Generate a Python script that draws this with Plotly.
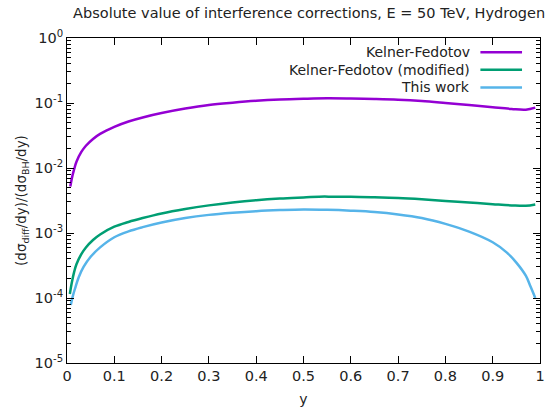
import plotly.graph_objects as go

# Data
kf_x = [0.007, 0.01, 0.015, 0.02, 0.03, 0.04, 0.055, 0.07, 0.1, 0.13, 0.16, 0.2, 0.25, 0.3, 0.35,
        0.4, 0.45, 0.5, 0.55, 0.6, 0.65, 0.7, 0.75, 0.8, 0.85, 0.9, 0.94, 0.97, 0.99]
kf_y = [0.0052, 0.0068, 0.0095, 0.0125, 0.0175, 0.022, 0.028, 0.0335, 0.043, 0.052, 0.060, 0.070,
        0.082, 0.093, 0.101, 0.108, 0.113, 0.116, 0.118, 0.117, 0.115, 0.112, 0.107, 0.100,
        0.093, 0.086, 0.081, 0.079, 0.085]

kfm_x = [0.006, 0.01, 0.015, 0.02, 0.03, 0.04, 0.055, 0.07, 0.1, 0.13, 0.16, 0.2, 0.25, 0.3, 0.35,
         0.4, 0.45, 0.5, 0.545, 0.56, 0.6, 0.65, 0.7, 0.75, 0.8, 0.85, 0.9, 0.94, 0.97, 0.99]
kfm_y = [1.15e-4, 1.7e-4, 2.5e-4, 3.3e-4, 4.7e-4, 6.0e-4, 7.8e-4, 9.5e-4, 1.25e-3, 1.48e-3,
         1.70e-3, 2.0e-3, 2.34e-3, 2.66e-3, 2.95e-3, 3.2e-3, 3.39e-3, 3.53e-3, 3.65e-3, 3.6e-3,
         3.62e-3, 3.55e-3, 3.45e-3, 3.3e-3, 3.12e-3, 2.95e-3, 2.78e-3, 2.66e-3, 2.62e-3, 2.75e-3]

tw_x = [0.008, 0.012, 0.017, 0.025, 0.035, 0.05, 0.07, 0.1, 0.13, 0.16, 0.2, 0.25, 0.3, 0.35, 0.4,
        0.45, 0.5, 0.55, 0.6, 0.65, 0.7, 0.75, 0.8, 0.85, 0.9, 0.93, 0.95, 0.97, 0.98, 0.99]
tw_y = [7.8e-5, 1.05e-4, 1.4e-4, 2.1e-4, 3.0e-4, 4.3e-4, 6.0e-4, 8.6e-4, 1.06e-3, 1.23e-3,
        1.45e-3, 1.7e-3, 1.9e-3, 2.05e-3, 2.17e-3, 2.25e-3, 2.3e-3, 2.27e-3, 2.2e-3, 2.1e-3,
        1.93e-3, 1.7e-3, 1.38e-3, 1.05e-3, 7.2e-4, 5.0e-4, 3.5e-4, 2.2e-4, 1.5e-4, 1.0e-4]

names = ["Kelner-Fedotov", "Kelner-Fedotov (modified)", "This work"]
colors = ["#9400D3", "#009E73", "#56B4E9"]

x_ticks = [0, 0.1, 0.2, 0.3, 0.4, 0.5, 0.6, 0.7, 0.8, 0.9, 1]
x_ticktext = ["0", "0.1", "0.2", "0.3", "0.4", "0.5", "0.6", "0.7", "0.8", "0.9", "1"]
y_ticks = [1e0, 1e-1, 1e-2, 1e-3, 1e-4, 1e-5]
y_ticktext = ["10<sup>0</sup>", "10<sup>-1</sup>", "10<sup>-2</sup>", "10<sup>-3</sup>",
              "10<sup>-4</sup>", "10<sup>-5</sup>"]

font = "DejaVu Sans"
fs = 14.5
fig = go.Figure()
for xs, ys, n, c in zip([kf_x, kfm_x, tw_x], [kf_y, kfm_y, tw_y], names, colors):
    fig.add_trace(go.Scatter(x=xs, y=ys, name=n, mode="lines",
                             line=dict(color=c, width=2.5, shape="spline", smoothing=1.0)))

# gnuplot-style legend: text right-aligned, sample to the right
row_y = [0.956, 0.902, 0.848]
for i, (n, c) in enumerate(zip(names, colors)):
    fig.add_annotation(xref="paper", yref="paper", x=0.856, y=row_y[i], text=n,
                       showarrow=False, xanchor="right", yanchor="middle",
                       font=dict(family=font, size=14, color="#222"))
    fig.add_shape(type="line", xref="paper", yref="paper", x0=0.874, x1=0.962,
                  y0=row_y[i], y1=row_y[i], line=dict(color=c, width=2.5))

fig.update_layout(
    width=552, height=413,
    margin=dict(l=67, r=7, t=38, b=50),
    paper_bgcolor="white", plot_bgcolor="white",
    showlegend=False,
    font=dict(family=font, size=fs, color="#222"),
    title=dict(text="Absolute value of interference corrections, E = 50 TeV, Hydrogen",
               x=0.56, xanchor="center", y=0.969, yanchor="middle",
               font=dict(family=font, size=fs, color="#222")),
    xaxis=dict(range=[0, 1], tickvals=x_ticks, ticktext=x_ticktext,
               ticks="inside", ticklen=7, tickcolor="black", mirror="allticks",
               showline=True, linecolor="black", linewidth=1, showgrid=False, zeroline=False,
               title=dict(text="y", standoff=10, font=dict(size=14)), tickfont=dict(size=fs)),
    yaxis=dict(type="log", range=[-5, 0], tickvals=y_ticks, ticktext=y_ticktext,
               ticks="inside", ticklen=7, tickcolor="black", mirror="allticks",
               showline=True, linecolor="black", linewidth=1, showgrid=False, zeroline=False,
               minor=dict(ticks="inside", ticklen=4, tickcolor="black", dtick="D1", showgrid=False),
               title=dict(text="(dσ<sub>diff</sub>/dy)/(dσ<sub>BH</sub>/dy)", standoff=4,
                          font=dict(size=13.5)),
               tickfont=dict(size=fs)),
)

fig.write_html("out.html")
